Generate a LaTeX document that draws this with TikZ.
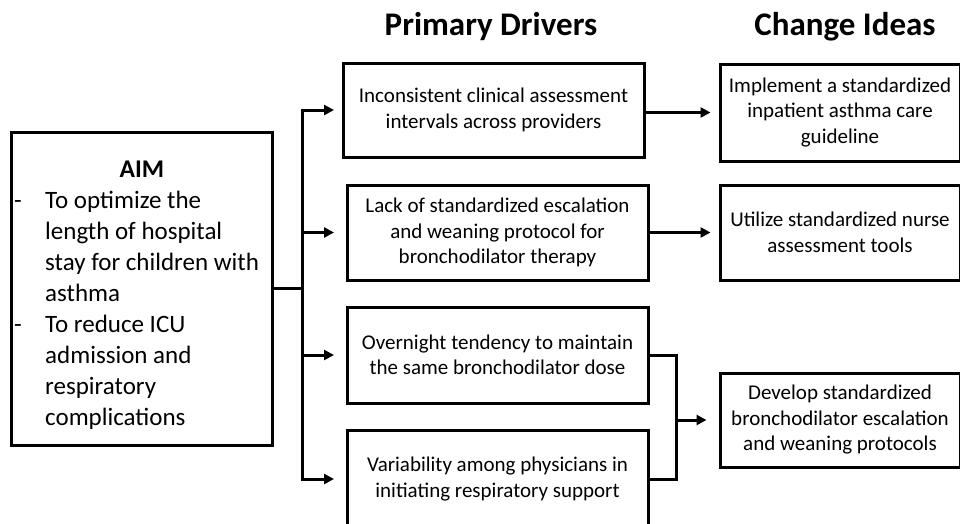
\documentclass[tikz,border=0pt]{standalone}
\usepackage{fontspec}
\setmainfont{Carlito}
\usetikzlibrary{arrows.meta}

\begin{document}
\begin{tikzpicture}[x=1pt, y=-1pt,
    box/.style={draw, line width=3pt, align=center, inner sep=0pt,
      minimum width=301pt, font=\fontsize{21}{25.5}\selectfont},
    idea/.style={box, minimum width=240pt},
    link/.style={line width=3pt},
    arr/.style={link, -{Triangle[length=10pt, width=10pt]}},
    head/.style={anchor=base, font=\bfseries\fontsize{33}{39}\selectfont}]
    \useasboundingbox (0,0) rectangle (960,523);

    \node [head] (drivers) at (491,35) {Primary Drivers};
    \node [head] (ideas) at (845,35) {Change Ideas};

    % aim
    \node [box, minimum width=261pt, minimum height=313pt] (aim) at (141.5,288.5) {};
    \node [head, font=\bfseries\fontsize{25.5}{31}\selectfont] (aimhead) at (142,177) {AIM};
    \node [anchor=base west, inner sep=0pt, font=\fontsize{25}{31}\selectfont] (aimtext) at (14,208) {%
      \begin{tabular}[t]{@{}p{31pt}@{}l@{}}
        - & To optimize the\\
          & length of hospital\\
          & stay for children with\\
          & asthma\\
        - & To reduce ICU\\
          & admission and\\
          & respiratory\\
          & complications
      \end{tabular}};

    % primary drivers
    \node [box, minimum height=94pt] (d1) at (493.5,110) {Inconsistent clinical assessment\\intervals across providers};
    \node [box, minimum height=95pt] (d2) at (497.5,232.5) {Lack of standardized escalation\\and weaning protocol for\\bronchodilator therapy};
    \node [box, minimum height=96pt] (d3) at (497.5,355) {Overnight tendency to maintain\\the same bronchodilator dose};
    \node [box, minimum height=98pt] (d4) at (497.5,479) {Variability among physicians in\\initiating respiratory support};

    % change ideas
    \node [idea, minimum height=97pt] (c1) at (840,112.5) {Implement a standardized\\inpatient asthma care\\guideline};
    \node [idea, minimum height=95pt] (c2) at (840,232.5) {Utilize standardized nurse\\assessment tools};
    \node [idea, minimum height=94pt] (c3) at (840,420) {Develop standardized\\bronchodilator escalation\\and weaning protocols};

    \coordinate (trunk) at (302,0);
    \coordinate (tip) at (334,0);
    \coordinate (join) at (676,420);

    \draw [link] (aim.east) -- (aim.east -| trunk);
    \draw [arr] (trunk |- d2) -- (trunk |- d1) -- (tip |- d1);
    \draw [arr] (trunk |- d2) -- (tip |- d2);
    \draw [link] (trunk |- d2) -- (trunk |- d3);
    \draw [arr] (trunk |- d3) -- (tip |- d3);
    \draw [arr] (trunk |- d3) -- (trunk |- d4) -- (tip |- d4);

    \draw [arr] (d1.east |- c1) -- ([xshift=-8pt]c1.west);
    \draw [arr] (d2.east) -- ([xshift=-8pt]c2.west);
    \draw [link] (d3.east) -- (d3.east -| join) -- (d4.east -| join) -- (d4.east);
    \draw [arr] (join) -- ([xshift=-12pt]c3.west);
  \end{tikzpicture}
\end{document}
